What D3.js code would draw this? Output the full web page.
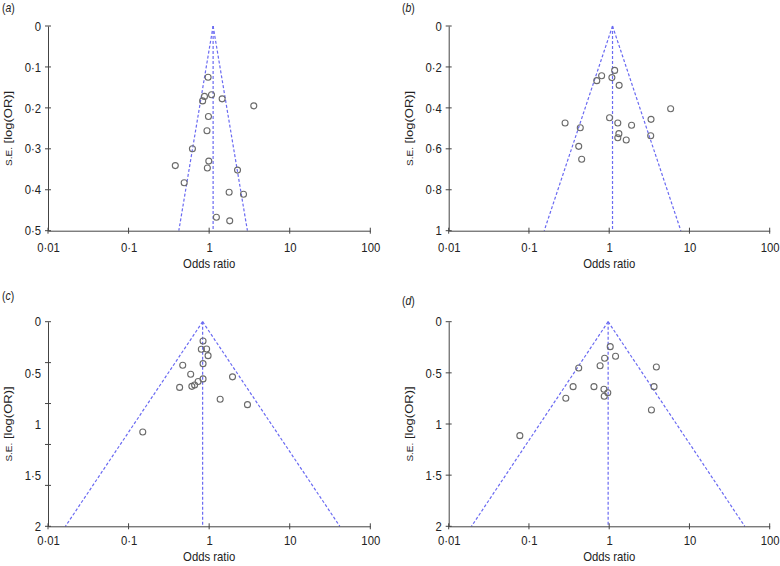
<!DOCTYPE html>
<html>
<head>
<meta charset="utf-8">
<script src="https://cdn.jsdelivr.net/npm/d3@7"></script>
<style>
  html, body { margin: 0; padding: 0; background: #fff; }
  svg { display: block; }
  text { font-family: "Liberation Sans", Arial, Helvetica, sans-serif; fill: #222; }
</style>
</head>
<body>
<svg id="chart" width="780" height="566"></svg>
<script>
// ---------- DATA ----------
const xTickValues = [0.01, 0.1, 1, 10, 100];
const xTickLabels = ["0·01", "0·1", "1", "10", "100"];

// Panel (a)
const orA = [0.97, 1.07, 0.875, 0.83, 1.45, 3.58, 0.98, 0.94, 0.62, 0.99, 0.38, 0.95, 2.25, 0.49, 1.77, 2.67, 1.23, 1.80];
const seA = [0.125, 0.168, 0.172, 0.183, 0.178, 0.195, 0.221, 0.256, 0.300, 0.330, 0.341, 0.347, 0.352, 0.383, 0.406, 0.411, 0.467, 0.476];
const yTicksA = [0, 0.1, 0.2, 0.3, 0.4, 0.5];
const yLabelsA = [0, 0.1, 0.2, 0.3, 0.4, 0.5];

// Panel (b)
const orB = [1.17, 0.805, 0.70, 1.08, 1.33, 5.83, 3.32, 1.01, 0.282, 0.436, 1.28, 1.90, 1.32, 1.28, 1.63, 3.29, 0.417, 0.454];
const seB = [0.217, 0.243, 0.267, 0.252, 0.290, 0.404, 0.456, 0.448, 0.474, 0.497, 0.474, 0.485, 0.526, 0.546, 0.557, 0.536, 0.588, 0.651];
const yTicksB = [0, 0.2, 0.4, 0.6, 0.8, 1];
const yLabelsB = [0, 0.2, 0.4, 0.6, 0.8, 1];

// Panel (c)
const orC = [0.84, 0.80, 0.93, 0.97, 0.84, 0.47, 0.59, 0.84, 1.95, 0.73, 0.66, 0.61, 0.43, 1.37, 2.99, 0.15];
const seC = [0.189, 0.270, 0.267, 0.332, 0.410, 0.426, 0.513, 0.559, 0.539, 0.584, 0.619, 0.632, 0.642, 0.758, 0.811, 1.078];
const yTicksC = [0, 0.4, 0.8, 1.2, 1.6, 2];
const yLabelsC = [0, 0.5, 1, 1.5, 2];

// Panel (d)
const orD = [1.03, 0.877, 1.20, 0.77, 0.417, 3.87, 0.355, 0.646, 3.62, 0.86, 0.96, 0.867, 0.288, 3.36, 0.077];
const seD = [0.244, 0.358, 0.338, 0.430, 0.452, 0.443, 0.635, 0.635, 0.635, 0.661, 0.694, 0.729, 0.749, 0.863, 1.114];
const yTicksD = [0, 0.5, 1, 1.5, 2];
const yLabelsD = [0, 0.5, 1, 1.5, 2];

// Pooled odds ratios (funnel apex) and maximum s.e. per panel
const panelLetters = ["a", "b", "c", "d"];
const pooledOR = [1.12, 1.10, 0.83, 0.97];
const seMax = [0.5, 1, 2, 2];

// ---------- LAYOUT ----------
const svg = d3.select("#chart");
const SX = 0.87;            // horizontal text compression of the source image
const FUNNEL = "#6a6af2";
const AXIS = "#444";

const layouts = [
  { x0: 48,    x1: 370.3, yTop: 26,    yBot: 230.7, lx: 2,   ly: 12,  xPad: 12,  tOff: 37 },
  { x0: 448.7, x1: 769.7, yTop: 26,    yBot: 230.7, lx: 402, ly: 12,  xPad: 12,  tOff: 37 },
  { x0: 48,    x1: 370.3, yTop: 321.7, yBot: 526.3, lx: 2,   ly: 300, xPad: 9.5, tOff: 35 },
  { x0: 448.7, x1: 769.7, yTop: 321.7, yBot: 526.3, lx: 402, ly: 305, xPad: 9.5, tOff: 35 }
];

const datasets = [
  { or: orA, se: seA, ticks: yTicksA, labels: yLabelsA },
  { or: orB, se: seB, ticks: yTicksB, labels: yLabelsB },
  { or: orC, se: seC, ticks: yTicksC, labels: yLabelsC },
  { or: orD, se: seD, ticks: yTicksD, labels: yLabelsD }
];

const fmt = v => String(v).replace(".", "·");

datasets.forEach((ds, i) => {
  const L = layouts[i];
  const g = svg.append("g");
  const x = d3.scaleLog().domain([0.01, 100]).range([L.x0, L.x1]);
  const y = d3.scaleLinear().domain([0, seMax[i]]).range([L.yTop, L.yBot]);

  // Funnel lines
  const p = pooledOR[i], lp = Math.log(p), sm = seMax[i];
  const funnel = [
    [[p, 0], [Math.exp(lp - 1.96 * sm), sm]],
    [[p, 0], [Math.exp(lp + 1.96 * sm), sm]],
    [[p, 0], [p, sm]]
  ];
  const line = d3.line().x(d => x(d[0])).y(d => y(d[1]));
  g.selectAll("path.funnel").data(funnel).join("path")
    .attr("class", "funnel")
    .attr("d", line)
    .attr("fill", "none")
    .attr("stroke", FUNNEL)
    .attr("stroke-width", 1.2)
    .attr("stroke-dasharray", "3,2");

  // X axis
  const xa = g.append("g")
    .attr("transform", `translate(0,${L.yBot})`)
    .call(d3.axisBottom(x).tickValues(xTickValues)
      .tickFormat((d, k) => xTickLabels[k]).tickSize(0).tickPadding(L.xPad));
  xa.select(".domain").attr("stroke", AXIS).attr("stroke-width", 1);
  xa.selectAll("text").attr("font-size", 13).attr("fill", "#222")
    .attr("font-family", null).attr("transform", `scale(${SX},1)`);
  g.selectAll("line.xt").data(xTickValues).join("line")
    .attr("class", "xt")
    .attr("x1", d => x(d)).attr("x2", d => x(d))
    .attr("y1", L.yBot - 3).attr("y2", L.yBot + 3)
    .attr("stroke", AXIS).attr("stroke-width", 1);

  // Y axis
  const ya = g.append("g")
    .attr("transform", `translate(${L.x0},0)`)
    .call(d3.axisLeft(y).tickValues(ds.labels).tickFormat(fmt).tickSize(0).tickPadding(7));
  ya.select(".domain").attr("stroke", AXIS).attr("stroke-width", 1);
  ya.selectAll("text").attr("font-size", 13).attr("fill", "#222")
    .attr("font-family", null)
    .attr("x", -7 / SX)
    .attr("transform", `scale(${SX},1)`);
  g.selectAll("line.yt").data(ds.ticks).join("line")
    .attr("class", "yt")
    .attr("x1", L.x0 - 3).attr("x2", L.x0 + 3)
    .attr("y1", d => y(d)).attr("y2", d => y(d))
    .attr("stroke", AXIS).attr("stroke-width", 1);

  // Points
  const pts = ds.or.map((o, k) => [o, ds.se[k]]);
  g.selectAll("circle").data(pts).join("circle")
    .attr("cx", d => x(d[0]))
    .attr("cy", d => y(d[1]))
    .attr("r", 3)
    .attr("fill", "none")
    .attr("stroke", "#6a6a6a")
    .attr("stroke-width", 1.1);

  // X title
  g.append("text")
    .attr("transform", `translate(${x(1)},${L.yBot + L.tOff}) scale(${SX},1)`)
    .attr("text-anchor", "middle")
    .attr("font-size", 13)
    .text("Odds ratio");

  // Y title
  const yMid = (L.yTop + L.yBot) / 2;
  const yt = g.append("text")
    .attr("transform", `translate(${L.x0 - 36},${yMid}) scale(${SX},1) rotate(-90)`)
    .attr("text-anchor", "middle")
    .attr("font-size", 13);
  yt.append("tspan").attr("font-size", 10).text("S.E.");
  yt.append("tspan").text(" [log(OR)]");

  // Panel letter
  const pl = svg.append("text")
    .attr("transform", `translate(${L.lx},${L.ly}) scale(${SX},1)`)
    .attr("font-size", 12);
  pl.append("tspan").text("(");
  pl.append("tspan").attr("font-style", "italic").text(panelLetters[i]);
  pl.append("tspan").text(")");
});
</script>
</body>
</html>
